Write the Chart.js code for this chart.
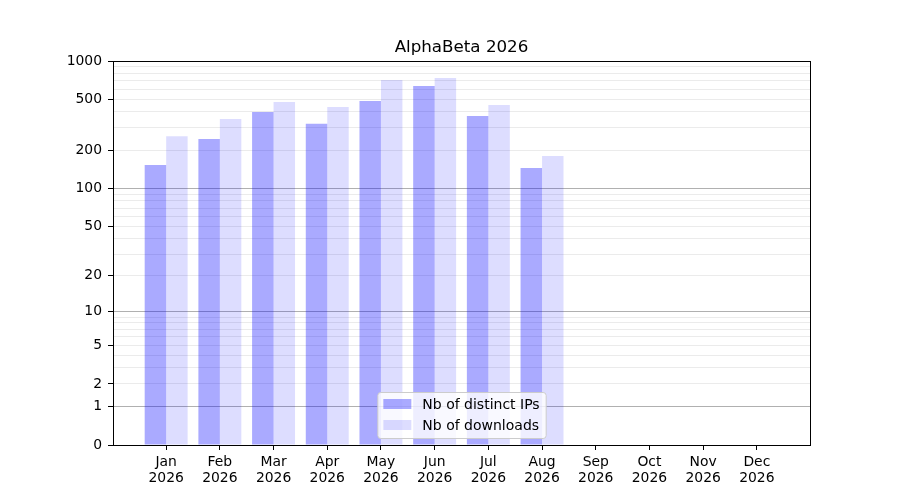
<!DOCTYPE html>
<html>
<head>
<meta charset="utf-8">
<script src="https://cdn.jsdelivr.net/npm/chart.js@4.4.1/dist/chart.umd.min.js"></script>
<style>
  html, body { margin: 0; padding: 0; background: #fff; }
  #wrap { width: 900px; height: 500px; }
</style>
</head>
<body>
<div id="wrap"><canvas id="chart" width="900" height="500"></canvas></div>
<script>
// Datos del grafico
const months = ['Jan', 'Feb', 'Mar', 'Apr', 'May', 'Jun', 'Jul', 'Aug', 'Sep', 'Oct', 'Nov', 'Dec'];
const yearLabel = '2026';
const chartTitle = 'AlphaBeta 2026';
const distinctIPs = [153, 245, 399, 322, 487, 637, 371, 145, 0, 0, 0, 0];
const downloads   = [258, 351, 477, 437, 710, 736, 452, 180, 0, 0, 0, 0];
const yLabelTicks = [0, 1, 2, 5, 10, 20, 50, 100, 200, 500, 1000];
const yMajorLines = [1, 10, 100];
const yMinorTicks = [3, 4, 6, 7, 8, 9, 30, 40, 60, 70, 80, 90, 300, 400, 600, 700, 800, 900];

// Escala log(1 + x), como la del original
class Log1pScale extends Chart.LinearScale {
  buildTicks() {
    const vals = [...yLabelTicks, ...yMinorTicks].sort((a, b) => a - b);
    return vals.map(v => ({ value: v }));
  }
  configure() {
    super.configure();
    this._startValue = Math.log10(1 + this.min);
    this._valueRange = Math.log10(1 + this.max) - this._startValue;
  }
  getPixelForValue(value) {
    if (value === null || isNaN(value)) return NaN;
    return this.getPixelForDecimal((Math.log10(1 + value) - this._startValue) / this._valueRange);
  }
  getValueForPixel(pixel) {
    return Math.pow(10, this._startValue + this.getDecimalForPixel(pixel) * this._valueRange) - 1;
  }
}
Log1pScale.id = 'log1p';
Log1pScale.defaults = {};
Chart.register(Log1pScale);

Chart.defaults.font.family = '"DejaVu Sans", sans-serif';
Chart.defaults.color = '#000';

// Marco, titulo centrado sobre el area y leyenda dentro del area
const framePlugin = {
  id: 'frame',
  afterDatasetsDraw(chart) {
    const { ctx, chartArea: a } = chart;
    ctx.save();
    ctx.strokeStyle = '#000';
    ctx.lineWidth = 1;
    ctx.strokeRect(a.left + 0.5, a.top + 0.5, a.right - a.left, a.bottom - a.top);

    // titulo
    ctx.font = '16.7px "DejaVu Sans"';
    ctx.fillStyle = '#000';
    ctx.textAlign = 'center';
    ctx.textBaseline = 'middle';
    ctx.fillText(chartTitle, (a.left + a.right) / 2, a.top - 13);

    // leyenda
    ctx.font = '14px "DejaVu Sans"';
    ctx.textAlign = 'left';
    const items = chart.data.datasets.map(d => ({ text: d.label, color: d.backgroundColor }));
    const textW = Math.max(...items.map(i => ctx.measureText(i.text).width));
    const pad = 6, handle = 28, gap = 11, rowH = 21;
    const w = pad + handle + gap + textW + pad;
    const h = 46;
    const x = (a.left + a.right) / 2 - w / 2;
    const y = a.bottom - 7 - h;
    ctx.beginPath();
    ctx.roundRect(x + 0.5, y + 0.5, w, h, 3);
    ctx.fillStyle = 'rgba(255,255,255,0.8)';
    ctx.fill();
    ctx.strokeStyle = '#cccccc';
    ctx.stroke();
    items.forEach((it, i) => {
      const cy = y + 12 + i * rowH;
      ctx.fillStyle = it.color;
      ctx.fillRect(x + pad, cy - 5, handle, 10);
      ctx.fillStyle = '#000';
      ctx.fillText(it.text, x + pad + handle + gap, cy + 1);
    });
    ctx.restore();
  }
};

new Chart(document.getElementById('chart'), {
  type: 'bar',
  data: {
    datasets: [
      {
        label: 'Nb of distinct IPs',
        data: distinctIPs.map((v, i) => ({ x: i, y: v })),
        backgroundColor: 'rgba(0,0,255,0.333)'
      },
      {
        label: 'Nb of downloads',
        data: downloads.map((v, i) => ({ x: i, y: v })),
        backgroundColor: 'rgba(0,0,255,0.133)'
      }
    ]
  },
  options: {
    responsive: false,
    animation: false,
    categoryPercentage: 0.8,
    barPercentage: 1.0,
    layout: { padding: { left: 0, right: 90, top: 61, bottom: 0 } },
    plugins: {
      legend: { display: false },
      tooltip: { enabled: false },
      title: { display: false }
    },
    scales: {
      x: {
        type: 'linear',
        min: -0.99,
        max: 11.99,
        offset: false,
        afterBuildTicks: s => { s.ticks = months.map((m, i) => ({ value: i })); },
        afterFit: s => { s.height = 55; },
        ticks: {
          autoSkip: false,
          maxRotation: 0,
          padding: 5,
          font: { size: 13.9, lineHeight: 1.1 },
          callback: v => [months[v], yearLabel]
        },
        grid: { offset: false, drawOnChartArea: false, tickLength: 5, tickColor: '#000' },
        border: { color: '#000', width: 1 }
      },
      y: {
        type: 'log1p',
        min: 0,
        max: 1000,
        afterFit: s => { s.width = 113; },
        ticks: {
          autoSkip: false,
          padding: 6,
          font: { size: 13.9 },
          callback: v => yLabelTicks.includes(v) ? String(v) : ''
        },
        grid: {
          tickLength: 5,
          tickColor: c => yLabelTicks.includes(c.tick.value) ? '#000' : 'rgba(0,0,0,0)',
          color: c => {
            const v = c.tick.value;
            if (v === 0 || v === 1000) return 'rgba(0,0,0,0)';
            return yMajorLines.includes(v) ? '#b0b0b0' : '#ebebeb';
          }
        },
        border: { color: '#000', width: 1 }
      }
    }
  },
  plugins: [framePlugin]
});
</script>
</body>
</html>
